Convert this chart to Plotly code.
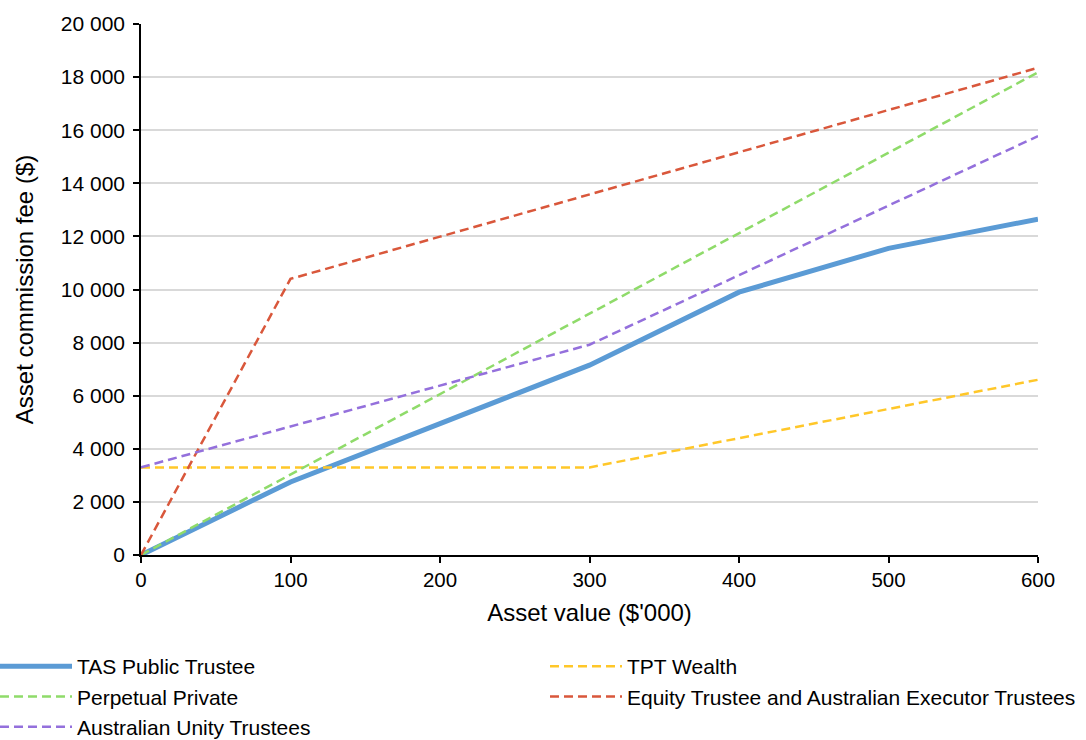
import plotly.graph_objects as go

asset_value = [0, 100, 200, 300, 400, 500, 600]
tas_public_trustee = [0, 2750, 4950, 7150, 9900, 11550, 12650]
tpt_wealth = [3300, 3300, 3300, 3300, 4400, 5500, 6600]
perpetual_private = [0, 3030, 6060, 9090, 12120, 15150, 18180]
equity_trustee = [0, 10400, 11990, 13580, 15170, 16760, 18350]
australian_unity = [3300, 4840, 6380, 7920, 10540, 13160, 15780]

x_ticks = [0, 100, 200, 300, 400, 500, 600]
y_ticks = list(range(0, 20001, 2000))

FONT = "Liberation Sans, Arial, sans-serif"
dash = "9px,5px"

fig = go.Figure()
fig.add_trace(go.Scatter(x=asset_value, y=tas_public_trustee, mode="lines", name="TAS Public Trustee",
                         line=dict(color="#5B9BD5", width=5), legend="legend"))
fig.add_trace(go.Scatter(x=asset_value, y=tpt_wealth, mode="lines", name="TPT Wealth",
                         line=dict(color="#FFC729", width=2.5, dash=dash), legend="legend2"))
fig.add_trace(go.Scatter(x=asset_value, y=perpetual_private, mode="lines", name="Perpetual Private",
                         line=dict(color="#8FDB6A", width=2.5, dash=dash), legend="legend"))
fig.add_trace(go.Scatter(x=asset_value, y=equity_trustee, mode="lines",
                         name="Equity Trustee and Australian Executor Trustees",
                         line=dict(color="#D9573B", width=2.5, dash=dash), legend="legend2"))
fig.add_trace(go.Scatter(x=asset_value, y=australian_unity, mode="lines", name="Australian Unity Trustees",
                         line=dict(color="#9470DC", width=2.5, dash=dash), legend="legend"))

L, R, T, B = 141, 48, 24, 185
W, H = 1086, 740
PW = W - L - R
PH = H - T - B

legend_common = dict(orientation="v", xanchor="left", yanchor="top",
                     font=dict(family=FONT, size=21, color="#000"),
                     bgcolor="rgba(0,0,0,0)", itemwidth=72, tracegroupgap=0, traceorder="normal")

def px_x(p):
    return (p - L) / PW

def px_y(p):
    return (H - B - p) / PH

fig.update_layout(
    width=W, height=H,
    margin=dict(l=L, r=R, t=T, b=B, autoexpand=False),
    paper_bgcolor="white", plot_bgcolor="white",
    separators=". ",
    font=dict(family=FONT, size=20, color="#000"),
    xaxis=dict(range=[0, 600], tickvals=x_ticks, showgrid=False, showline=True, linecolor="#000", linewidth=1.5,
               ticks="outside", ticklen=6, tickcolor="#000", tickwidth=1.5,
               tickfont=dict(family=FONT, size=20.5),
               title=dict(text="Asset value ($'000)", font=dict(family=FONT, size=24), standoff=14),
               zeroline=False, fixedrange=True),
    yaxis=dict(range=[0, 20000], tickvals=y_ticks, tickformat=",", showgrid=True, gridcolor="#D9D9D9", gridwidth=1.5,
               showline=True, linecolor="#000", linewidth=1.5, ticks="outside", ticklen=6, tickcolor="#000",
               tickwidth=1.5, tickfont=dict(family=FONT, size=21), ticklabelstandoff=4,
               title=dict(text="Asset commission fee ($)", font=dict(family=FONT, size=24), standoff=20),
               zeroline=False, fixedrange=True),
    legend=dict(x=px_x(-5), y=px_y(646), **legend_common),
    legend2=dict(x=px_x(545), y=px_y(646), **legend_common),
    showlegend=True,
)

fig.write_html("out.html")
